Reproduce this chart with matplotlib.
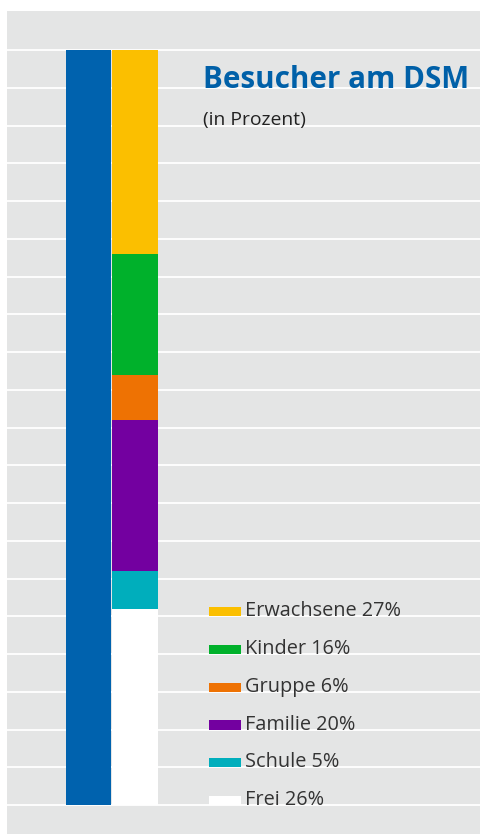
import numpy as np
import matplotlib.pyplot as plt

# Besucher am DSM, Anteile in Prozent (von oben nach unten)
categories = ['Erwachsene', 'Kinder', 'Gruppe', 'Familie', 'Schule', 'Frei']
shares = [27, 16, 6, 20, 5, 26]
colors = ['#fbbf00', '#00b12b', '#ee7203', '#7300a0', '#00aebc', '#ffffff']
total = 100

title = 'Besucher am DSM'
subtitle = '(in Prozent)'

plt.rcParams['font.family'] = ['Open Sans', 'DejaVu Sans']

fig = plt.figure(figsize=(4.81, 8.34), dpi=100)
fig.patch.set_facecolor('white')

# axes in pixel-ish units on x, percent on y
ax = fig.add_axes([7 / 481, 0, 474 / 481, 823 / 834])
ax.set_facecolor('#e4e5e5')
ax.set_xlim(7, 481)
ax.set_ylim(-29 / 7.55, 100 + 39 / 7.55)
for s in ax.spines.values():
    s.set_visible(False)
ax.set_xticks([])
ax.set_yticks([])

# white grid lines every 5 percent
for g in np.arange(0, 101, 5):
    ax.axhline(g, color='white', lw=1.3, zorder=1)

# total bar
ax.bar(88.5, total, width=45, bottom=0, color='#0062ae', zorder=2)

# stacked bar, drawn from the bottom up
bottom = 0
for cat, val, col in zip(categories[::-1], shares[::-1], colors[::-1]):
    ax.bar(135, val, width=46, bottom=bottom, color=col, zorder=2)
    bottom += val


def fit_width(txt, px):
    # shrink/grow font so the text is px pixels wide
    fig.canvas.draw()
    w = txt.get_window_extent().width
    txt.set_fontsize(txt.get_fontsize() * px / w)


# title on the grid lines
t1 = ax.text(203, 95, title, fontsize=20, fontweight='bold', color='#0060a8',
             va='baseline', ha='left', zorder=3)
t2 = ax.text(203, 90, subtitle, fontsize=13, color='#222222',
             va='baseline', ha='left', zorder=3)
fit_width(t1, 266)
fit_width(t2, 102)

# legend rows sitting on the grid lines
for i, (cat, val, col) in enumerate(zip(categories, shares, colors)):
    y = 25 - i * 5
    ax.bar(225, 1.2, width=32, bottom=y, color=col, zorder=3)
    ax.text(245, y, f'{cat} {val}%', fontsize=14.3, color='#333333',
            va='baseline', ha='left', zorder=3)

fig.savefig('out.png', dpi=100)
